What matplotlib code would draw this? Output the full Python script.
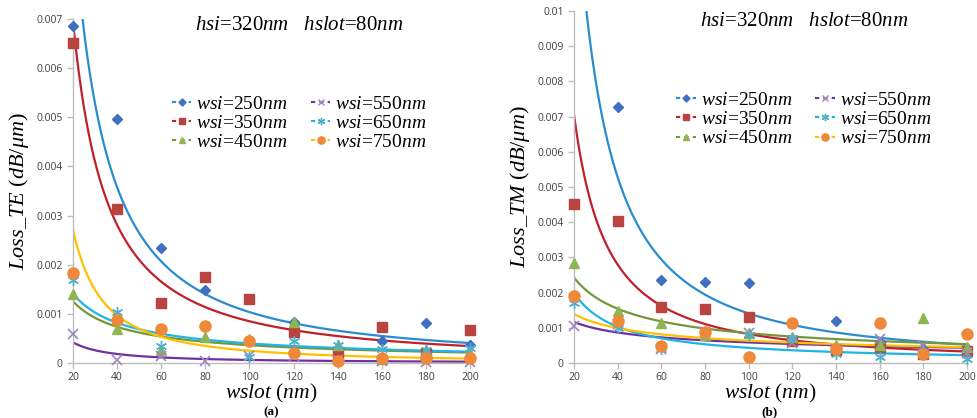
import numpy as np
import matplotlib
matplotlib.use("Agg")
import matplotlib.pyplot as plt
from matplotlib.lines import Line2D
from matplotlib.ticker import FuncFormatter

plt.rcParams['mathtext.fontset'] = 'custom'
plt.rcParams['mathtext.rm'] = 'Liberation Serif'
plt.rcParams['mathtext.it'] = 'Liberation Serif:italic'
plt.rcParams['mathtext.bf'] = 'Liberation Serif:bold'

# --- datos ---
wslot = [20, 40, 60, 80, 100, 120, 140, 160, 180, 200]
etiquetas = ['250', '350', '450', '550', '650', '750']

# (a) perdidas TE (dB/um)
te_250 = [0.00685, 0.00497, 0.00235, 0.00149, 0.0013, 0.00084, 0.00031, 0.00045, 0.00081, 0.00037]
te_350 = [0.00652, 0.00313, 0.00123, 0.00174, 0.0013, 0.00063, 0.0002, 0.00074, 0.0002, 0.00067]
te_450 = [0.0014, 0.00069, 0.00026, 0.00052, 0.00048, 0.00084, 0.00037, 0.00008, 0.00027, 0.0002]
te_550 = [0.0006, 0.00006, 0.00014, 0.00004, 0.00015, 0.00015, 0.00007, 0.00004, 0.00002, 0.00001]
te_650 = [0.00169, 0.00103, 0.00035, 0.00075, 0.00013, 0.00045, 0.00036, 0.00029, 0.00026, 0.0003]
te_750 = [0.00184, 0.00088, 0.0007, 0.00075, 0.00045, 0.00021, 0.00005, 0.0001, 0.0001, 0.0001]

# (b) perdidas TM (dB/um)
tm_250 = [0.0102, 0.00728, 0.00236, 0.00229, 0.00228, 0.00113, 0.00119, 0.00059, 0.0004, 0.00044]
tm_350 = [0.00452, 0.00404, 0.0016, 0.00153, 0.00132, 0.00063, 0.00037, 0.00045, 0.00025, 0.00034]
tm_450 = [0.00283, 0.00149, 0.00113, 0.0008, 0.00086, 0.00075, 0.0005, 0.0005, 0.00129, 0.00045]
tm_550 = [0.00106, 0.0011, 0.00039, 0.00087, 0.00086, 0.00057, 0.00041, 0.00067, 0.00049, 0.00027]
tm_650 = [0.0017, 0.001, 0.0004, 0.0009, 0.0008, 0.0007, 0.00025, 0.00018, 0.0003, 0.00012]
tm_750 = [0.0019, 0.0012, 0.00048, 0.00089, 0.00016, 0.00113, 0.0004, 0.00113, 0.00026, 0.00081]

# --- estilos ---
marcadores = ['D', 's', '^', 'x', (6, 2, 0), 'o']
tam_marc = [5.5, 7, 7, 7, 8, 8]
col_marc = ['#3f6fc2', '#b8433f', '#8fb552', '#9b86bd', '#4fb0cc', '#f0883a']
col_tend = ['#2a8bd0', '#c0202a', '#76963a', '#7030a0', '#1fb4e6', '#ffc000']
serif = 'Liberation Serif'


def tendencia(x, y):
    # ajuste potencial (como la linea de tendencia de Excel)
    b, ln_a = np.polyfit(np.log(x), np.log(y), 1)
    xs = np.linspace(20, 200, 300)
    return xs, np.exp(ln_a) * xs ** b


fig = plt.figure(figsize=(9.77, 4.18), dpi=100)
ax_a = fig.add_axes([0.0747, 0.1316, 0.4063, 0.823])
ax_b = fig.add_axes([0.5875, 0.1316, 0.4022, 0.842])

paneles = [
    (ax_a, [te_250, te_350, te_450, te_550, te_650, te_750], 0.007, r'$Loss\_TE$ ($dB/\mu m$)', (0.225, 0.807)),
    (ax_b, [tm_250, tm_350, tm_450, tm_550, tm_650, tm_750], 0.01, r'$Loss\_TM$ ($dB/\mu m$)', (0.236, 0.799)),
]

for ax, series, ymax, ylab, pos_ley in paneles:
    x = np.array(wslot, dtype=float)
    for i, serie in enumerate(series):
        y = np.array(serie)
        xs, ys = tendencia(x, y)
        ax.plot(xs, ys, color=col_tend[i], lw=1.6, zorder=2)
    for i, serie in enumerate(series):
        y = np.array(serie)
        vis = y <= ymax
        if marcadores[i] == 'x':
            ax.plot(x[vis], y[vis], ls='none', marker='x', ms=tam_marc[i], mew=1.2,
                    color=col_marc[i], clip_on=False, zorder=3)
        elif marcadores[i] == (6, 2, 0):
            ax.plot(x[vis], y[vis], ls='none', marker=marcadores[i], ms=tam_marc[i], mew=1.0,
                    color=col_marc[i], clip_on=False, zorder=3)
        else:
            ax.plot(x[vis], y[vis], ls='none', marker=marcadores[i], ms=tam_marc[i],
                    color=col_marc[i], mec=col_marc[i], clip_on=False, zorder=3)

    ax.set_xlim(20, 200)
    ax.set_ylim(0, ymax)
    ax.set_xticks(wslot)
    ax.set_yticks(np.arange(0, ymax + 1e-9, 0.001))
    ax.yaxis.set_major_formatter(FuncFormatter(lambda v, p: '0' if abs(v) < 1e-12 else '%g' % round(v, 4)))
    for s in ['top', 'right']:
        ax.spines[s].set_visible(False)
    for s in ['left', 'bottom']:
        ax.spines[s].set_color('#bdbdbd')
        ax.spines[s].set_linewidth(1.0)
    ax.tick_params(axis='both', colors='#bdbdbd', labelcolor='#404040', labelsize=7.5,
                   length=4, width=1.0, direction='out')
    ax.tick_params(axis='x', pad=2.5)
    for lab in ax.get_xticklabels() + ax.get_yticklabels():
        lab.set_family('Open Sans')
    ax.set_ylabel(ylab, fontsize=16, family=serif, labelpad=4)
    ax.set_xlabel(r'$wslot$ ($nm$)', fontsize=15.5, family=serif, labelpad=-1)

    manejadores = []
    for i in range(6):
        manejadores.append(Line2D([0], [0], color=col_tend[i], lw=1.5, ls=(0, (2.0, 2.0)),
                                  marker=marcadores[i], ms=tam_marc[i] * 0.65, mew=1.0,
                                  mfc=col_marc[i], mec=col_marc[i]))
    textos = [r'$wsi$=%s$nm$' % e for e in etiquetas]
    ax.legend(manejadores, textos, ncol=2, frameon=False, prop={'family': serif, 'size': 14},
              loc='upper left', bbox_to_anchor=pos_ley,
              handlelength=1.0, handletextpad=0.25, columnspacing=1.2, labelspacing=0.08,
              borderpad=0)

fig.text(271 / 977, 1 - 412.5 / 418, '(a)', ha='center', va='center',
         fontsize=9.5, fontweight='bold', family=serif)
fig.text(770 / 977, 1 - 412.5 / 418, '(b)', ha='center', va='center',
         fontsize=9.5, fontweight='bold', family=serif)

fig.text(195 / 977, 1 - 25 / 418, r'$hsi$=320$nm$   $hslot$=80$nm$',
         fontsize=15, family=serif, ha='left', va='center')
fig.text(700 / 977, 1 - 21 / 418, r'$hsi$=320$nm$   $hslot$=80$nm$',
         fontsize=15, family=serif, ha='left', va='center')

fig.savefig('out.png', dpi=100)
